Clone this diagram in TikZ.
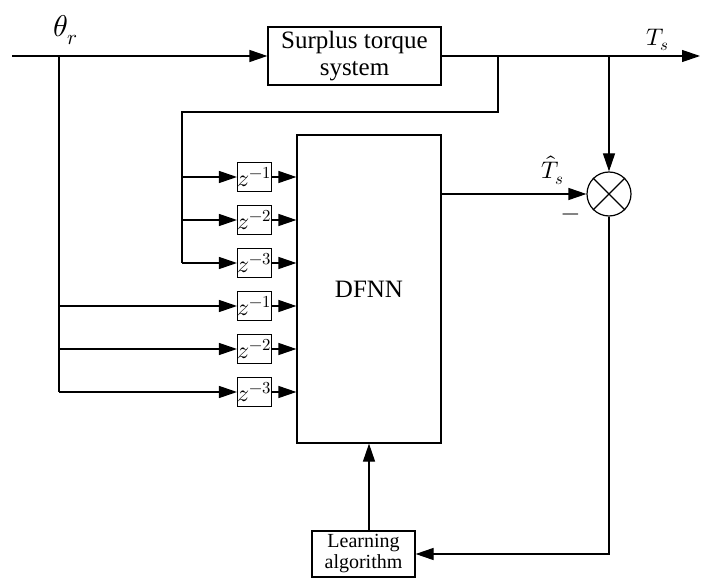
\documentclass[tikz,border=0pt]{standalone}
\usepackage{unicode-math}
\setmainfont{Liberation Serif}
\setmathfont{Latin Modern Math}
\usepackage{tikz}
\usetikzlibrary{arrows.meta,positioning}

\begin{document}
\begin{tikzpicture}[x=1pt,y=-1pt,line width=1.2pt,
  blk/.style={draw,align=center,inner sep=0pt},
  sig/.style={-{Triangle[length=18pt,width=12pt]}},
  big/.style={font=\fontsize{25}{27}\selectfont},
  small/.style={font=\fontsize{20}{21}\selectfont}]
\useasboundingbox (0,0) rectangle (702,580);

% blocks
\node[blk,big,minimum width=173,minimum height=58] (sts) at (354.5,56) {Surplus torque\\system};
\node[blk,big,minimum width=144,minimum height=308] (dfnn) at (369,289) {DFNN};
\node[draw,circle,minimum size=44,inner sep=0pt] (sum) at (609,194) {};
\draw (sum.north west) -- (sum.south east) (sum.north east) -- (sum.south west);
\node[blk,small,minimum width=103,minimum height=46] (learn) at (363.5,554) {Learning\\algorithm};

% branch points
\coordinate (in) at (12,56);
\coordinate (out) at (700,56);
\coordinate (b1) at (59,56);
\coordinate (b2) at (498,56);
\coordinate (b3) at (609,56);
\coordinate (fb) at (182,112);

% delay elements
\foreach \k/\p in {1/1,2/2,3/3,4/1,5/2,6/3}{
  \node[blk,font=\fontsize{24}{24}\selectfont,minimum width=29,minimum height=29] (z\k) at (254.5,{134+43*\k}) {$z^{-\p}$};
  \draw[sig] (z\k) -- (z\k -| dfnn.west);
}

% signal lines
\draw[sig] (in) -- (sts);
\draw[sig] (sts) -- (out);
\draw (b2) |- (fb) -- (fb |- z3);
\foreach \k in {1,2,3} \draw[sig] (fb |- z\k) -- (z\k);
\draw (b1) -- (b1 |- z6);
\foreach \k in {4,5,6} \draw[sig] (b1 |- z\k) -- (z\k);
\draw[sig] (b3) -- (sum);
\draw[sig] (dfnn.east |- sum) -- (sum);
\draw[sig] (dfnn.south |- learn.north) -- (dfnn.south);
\draw[sig] (sum.south) |- (learn.east);

% labels
\node[font=\fontsize{30}{30}\selectfont] (theta) at (66,30) {$\theta_r$};
\node[font=\fontsize{24}{24}\selectfont] (ts) at (658,40) {$T_s$};
\node[font=\fontsize{24}{24}\selectfont] (tshat) at (553,170) {$\hat{T}_s$};
\node[font=\fontsize{24}{24}\selectfont] (minus) at (571,217) {$-$};
\end{tikzpicture}
\end{document}
